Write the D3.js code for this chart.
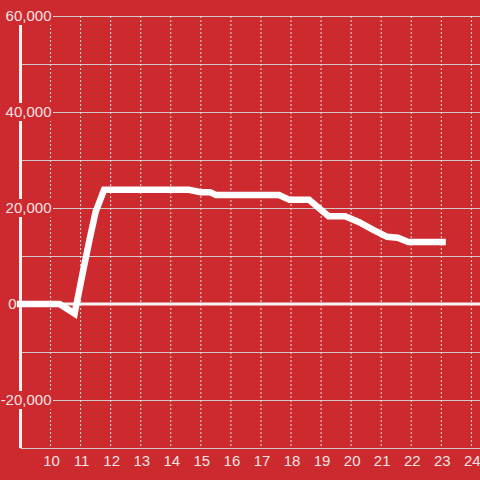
<!DOCTYPE html>
<html>
<head>
<meta charset="utf-8">
<script src="https://cdn.jsdelivr.net/npm/d3@7"></script>
<style>
  body { margin: 0; background: #cc2a2e; }
  svg { display: block; }
  text { font-family: "Liberation Sans", Arial, sans-serif; font-size: 15px; fill: #f3e2e2; }
</style>
</head>
<body>
<svg id="chart" width="480" height="480"></svg>
<script>
const width = 480, height = 480
const margin = {top: 16, bottom: 32, left: 20.5, right: 0}

// hours of the day vs value
const hours = [8.88, 10.3, 10.8, 11.07, 11.3, 11.5, 11.78, 14.6, 15.0, 15.3, 15.5, 17.6, 17.95, 18.6, 19.25, 19.8, 20.25, 20.75, 21.2, 21.55, 21.9, 23.15]
const values = [0, 0, -2000, 6500, 13500, 19200, 23800, 23800, 23300, 23300, 22700, 22700, 21700, 21700, 18300, 18300, 17100, 15400, 14000, 13800, 12900, 12900]

const xTicks = [10, 11, 12, 13, 14, 15, 16, 17, 18, 19, 20, 21, 22, 23, 24]
const yGrid = [-30000, -20000, -10000, 0, 10000, 20000, 30000, 40000, 50000, 60000]
const yLabels = [60000, 40000, 20000, 0, -20000]

const x = d3.scaleLinear().domain([9, 24.3]).range([margin.left, width - margin.right + 0.4])
const y = d3.scaleLinear().domain([-30000, 60000]).range([height - margin.bottom, margin.top])

const svg = d3.select("#chart")
const bg = "#cc2a2e"

// horizontal gridlines
svg.append("g").selectAll("line")
  .data(yGrid.filter(v => v != 0))
  .join("line")
    .attr("x1", x(9)).attr("x2", width)
    .attr("y1", d => Math.round(y(d)) + 0.5).attr("y2", d => Math.round(y(d)) + 0.5)
    .style("stroke", "#cfc9c9").style("stroke-width", 1.2)

// vertical dotted gridlines
svg.append("g").selectAll("line")
  .data(xTicks)
  .join("line")
    .attr("x1", d => x(d)).attr("x2", d => x(d))
    .attr("y1", y(60000)).attr("y2", y(-30000))
    .style("stroke", "#e6e0e0").style("stroke-width", 1).style("stroke-dasharray", "2,2")

// zero line
svg.append("line")
  .attr("x1", x(9)).attr("x2", width)
  .attr("y1", y(0)).attr("y2", y(0))
  .style("stroke", "#f5f2f2").style("stroke-width", 3)

// y axis line
svg.append("line")
  .attr("x1", x(9)).attr("x2", x(9))
  .attr("y1", y(60000)).attr("y2", y(-30000))
  .style("stroke", "#f5f2f2").style("stroke-width", 3)

// y labels with background
const yl = svg.append("g").selectAll("g")
  .data(yLabels)
  .join("g")
    .attr("transform", d => `translate(0,${y(d)})`)
yl.filter(d => d != 0).append("rect")
  .attr("x", 1).attr("y", -9).attr("width", 52).attr("height", 18)
  .style("fill", bg)
yl.append("text")
  .attr("x", d => d == 0 ? 16.5 : 51.5)
  .attr("dy", "0.35em")
  .style("text-anchor", "end")
  .text(d => d3.format(",")(d).replace("−", "-"))

// x labels
svg.append("g").selectAll("text")
  .data(xTicks)
  .join("text")
    .attr("x", d => x(d) + 1)
    .attr("y", y(-30000) + 12.5)
    .attr("dy", "0.35em")
    .style("text-anchor", "middle")
    .text(d => d)

// the line
const line = d3.line().x((d, i) => x(hours[i])).y(d => y(d))
svg.append("path")
  .datum(values)
  .attr("d", line)
  .style("fill", "none")
  .style("stroke", "#ffffff")
  .style("stroke-width", 6.5)
  .style("stroke-linejoin", "miter")
</script>
</body>
</html>
